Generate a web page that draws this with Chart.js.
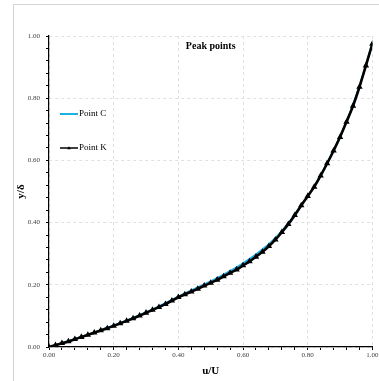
<!DOCTYPE html>
<html>
<head>
<meta charset="utf-8">
<script src="https://cdn.jsdelivr.net/npm/chart.js@4.4.1/dist/chart.umd.min.js"></script>
<style>
  html, body { margin: 0; padding: 0; background: #fff; }
  canvas { display: block; }
</style>
</head>
<body>
<canvas id="chart" width="379" height="381"></canvas>
<script>
// values (u/U on x, y/delta on y)
const kX = [0.00, 0.02, 0.04, 0.06, 0.08, 0.10, 0.12, 0.14, 0.16, 0.18,
            0.20, 0.22, 0.24, 0.26, 0.28, 0.30, 0.32, 0.34, 0.36, 0.38,
            0.40, 0.42, 0.44, 0.46, 0.48, 0.50, 0.52, 0.54, 0.56, 0.58,
            0.60, 0.62, 0.64, 0.66, 0.68, 0.70, 0.72, 0.74, 0.76, 0.78,
            0.80, 0.82, 0.84, 0.86, 0.88, 0.90, 0.92, 0.94, 0.96, 0.98, 1.00];
const kY = [0.000, 0.006, 0.012, 0.018, 0.025, 0.032, 0.039, 0.046, 0.053, 0.060,
            0.068, 0.076, 0.084, 0.092, 0.101, 0.110, 0.119, 0.128, 0.138, 0.149,
            0.160, 0.169, 0.178, 0.187, 0.197, 0.206, 0.216, 0.227, 0.238, 0.249,
            0.262, 0.275, 0.290, 0.306, 0.324, 0.345, 0.369, 0.395, 0.424, 0.455,
            0.485, 0.515, 0.551, 0.590, 0.631, 0.675, 0.724, 0.775, 0.836, 0.905, 0.975];

const cX = [0.00, 0.10, 0.20, 0.30, 0.40, 0.45, 0.50, 0.55, 0.60, 0.65,
            0.70, 0.74, 0.78, 0.82, 0.86, 0.90, 0.94, 0.97, 1.00];
const cY = [0.000, 0.032, 0.069, 0.111, 0.162, 0.187, 0.211, 0.238, 0.269, 0.305,
            0.350, 0.398, 0.456, 0.516, 0.591, 0.677, 0.778, 0.872, 0.978];

const axisMin = 0;
const axisMax = 1;
const minorStep = 0.04;
const labelStep = 0.2;

const serif = "'Liberation Serif', 'Times New Roman', serif";

function toPoints(xs, ys) {
  return xs.map((x, i) => ({ x: x, y: ys[i] }));
}

function isMajor(v) {
  const r = v / labelStep;
  return Math.abs(r - Math.round(r)) < 1e-6;
}

// light grey frame behind everything
const framePlugin = {
  id: 'frame',
  beforeDraw(chart) {
    const ctx = chart.ctx;
    ctx.save();
    ctx.strokeStyle = '#d4d4d4';
    ctx.lineWidth = 1;
    ctx.strokeRect(13.5, 4.5, 400, 400);
    ctx.restore();
  }
};

// title and legend sit inside the plot area
const insidePlugin = {
  id: 'inside',
  afterDraw(chart) {
    const ctx = chart.ctx;
    const a = chart.chartArea;
    ctx.save();
    ctx.fillStyle = '#000';
    ctx.font = 'bold 10px ' + serif;
    ctx.textAlign = 'center';
    ctx.textBaseline = 'middle';
    ctx.fillText('Peak points', (a.left + a.right) / 2, a.top + 10);

    ctx.font = '9px ' + serif;
    ctx.textAlign = 'left';
    const rows = [a.top + 78, a.top + 112];
    chart.data.datasets.forEach((ds, i) => {
      const y = rows[i];
      ctx.strokeStyle = ds.borderColor;
      ctx.lineWidth = ds.legendWidth;
      ctx.beginPath();
      ctx.moveTo(a.left + 11, y);
      ctx.lineTo(a.left + 29, y);
      ctx.stroke();
      if (ds.pointRadius > 0) {
        ctx.fillStyle = ds.borderColor;
        ctx.beginPath();
        ctx.moveTo(a.left + 20, y - 1.8);
        ctx.lineTo(a.left + 21.8, y + 1.3);
        ctx.lineTo(a.left + 18.2, y + 1.3);
        ctx.closePath();
        ctx.fill();
      }
      ctx.fillStyle = '#000';
      ctx.fillText(ds.label, a.left + 30, y);
    });
    ctx.restore();
  }
};

function axisOptions(title, isX) {
  return {
    type: 'linear',
    min: axisMin,
    max: axisMax,
    border: { display: true, color: '#000', width: 1.2, dash: [3, 3] },
    grid: {
      color: (c) => (c.tick && isMajor(c.tick.value)) ? '#e0e0e0' : 'rgba(0,0,0,0)',
      lineWidth: 1,
      drawTicks: true,
      tickLength: 3,
      tickColor: '#000',
      tickBorderDash: []
    },
    ticks: {
      stepSize: minorStep,
      autoSkip: false,
      maxRotation: 0,
      padding: isX ? 1 : 6,
      color: '#404040',
      font: { family: serif, size: 7 },
      callback: (v) => isMajor(v) ? Number(v).toFixed(2) : ''
    },
    title: {
      display: true,
      text: title,
      color: '#000',
      font: { family: serif, size: 11, weight: 'bold' },
      padding: isX ? { top: 0, bottom: 3 } : { top: 15, bottom: 0 }
    },
    afterFit(scale) {
      if (isX) {
        scale.height = 34;
        scale.paddingLeft = 0;
        scale.paddingRight = 0;
      } else {
        scale.width = 49;
        scale.paddingTop = 0;
        scale.paddingBottom = 0;
      }
    }
  };
}

new Chart(document.getElementById('chart'), {
  type: 'scatter',
  data: {
    datasets: [
      {
        label: 'Point C',
        data: toPoints(cX, cY),
        showLine: true,
        borderColor: '#1cb0e8',
        backgroundColor: '#1cb0e8',
        borderWidth: 2,
        legendWidth: 2,
        pointRadius: 0,
        tension: 0.3,
        order: 2
      },
      {
        label: 'Point K',
        data: toPoints(kX, kY),
        showLine: true,
        borderColor: '#000',
        backgroundColor: '#000',
        borderWidth: 2.6,
        legendWidth: 1.5,
        pointRadius: 1.1,
        pointStyle: 'triangle',
        tension: 0.3,
        order: 1
      }
    ]
  },
  options: {
    responsive: false,
    animation: false,
    layout: { padding: { top: 36, right: 5, left: 0, bottom: 0 } },
    plugins: {
      legend: { display: false },
      title: { display: false },
      tooltip: { enabled: false }
    },
    scales: {
      x: axisOptions('u/U', true),
      y: axisOptions('y/\u03b4', false)
    }
  },
  plugins: [framePlugin, insidePlugin]
});
</script>
</body>
</html>
